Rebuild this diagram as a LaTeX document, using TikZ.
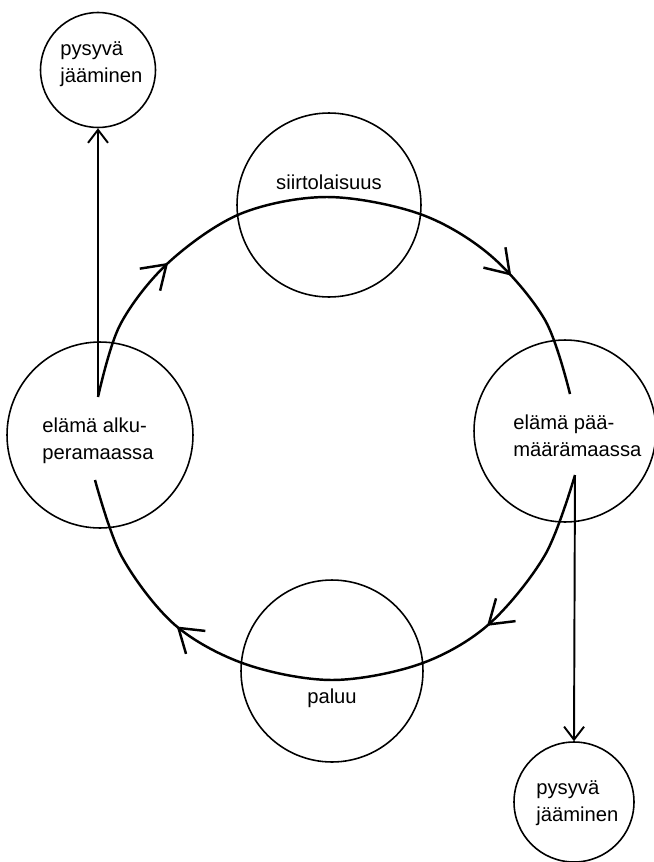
\documentclass[tikz,border=0pt]{standalone}
\usepackage{fontspec}
\setmainfont{Liberation Sans}
\usetikzlibrary{arrows.meta}
\usetikzlibrary{decorations.markings}

\begin{document}
\begin{tikzpicture}[x=0.02cm, y=-0.02cm,
    every node/.style={font=\fontsize{11.5}{15.5}\selectfont},
    ring/.style={draw, circle, line width=0.9pt, inner sep=0pt},
    txt/.style={align=left, inner sep=0pt},
    cyc/.style={line width=1.4pt, postaction={decorate}},
    stay/.style={line width=1.1pt, -{Straight Barb[length=2.6mm, width=4mm]}}]

\useasboundingbox (0,0) rectangle (653,862);

% --- phases of the cycle ---
\node[ring, minimum size=3.68cm] (emig) at (329,205) {};
\node[txt] at (329,182) {siirtolaisuus};

\node[ring, minimum size=3.72cm] (home) at (100,435) {};
\node[txt, anchor=west] at (42,441) {elämä alku-\\peramaassa};

\node[ring, minimum size=3.64cm] (dest) at (565,431) {};
\node[txt, anchor=west] at (513,436) {elämä pää-\\määrämaassa};

\node[ring, minimum size=3.64cm] (ret) at (332,671) {};
\node[txt] at (332,698) {paluu};

% --- staying for good ---
\node[ring, minimum size=2.3cm] (stayA) at (98,70) {};
\node[txt, anchor=west] at (60,64) {pysyvä\\jääminen};

\node[ring, minimum size=2.4cm] (stayB) at (574,802) {};
\node[txt, anchor=west] at (536,803) {pysyvä\\jääminen};

% loose ends of the loop
\coordinate (homeOut) at (98,397);
\coordinate (destIn) at (570,394);
\coordinate (destOut) at (575,475);
\coordinate (homeIn) at (95,480);

% --- the loop ---
\draw[cyc, decoration={markings,
      mark=at position 0.23 with {\arrow{Straight Barb[length=4.5mm, width=6mm]}},
      mark=at position 0.80 with {\arrow{Straight Barb[length=4.5mm, width=6mm]}}}]
  plot[smooth, tension=0.55] coordinates {(homeOut) (120,325) (168,263) (240,214)
      (327,197) (420,214) (490,255) (545,320) (destIn)};

\draw[cyc, decoration={markings,
      mark=at position 0.26 with {\arrow{Straight Barb[length=4.5mm, width=6mm]}},
      mark=at position 0.75 with {\arrow{Straight Barb[length=4.5mm, width=6mm]}}}]
  plot[smooth, tension=0.55] coordinates {(destOut) (545,555) (488,625) (420,664)
      (332,680) (245,664) (175,625) (122,557) (homeIn)};

% --- ways out of the loop ---
\draw[stay] (homeOut) -- (stayA.south);
\draw[stay] (destOut) -- (stayB.north);

\end{tikzpicture}
\end{document}
